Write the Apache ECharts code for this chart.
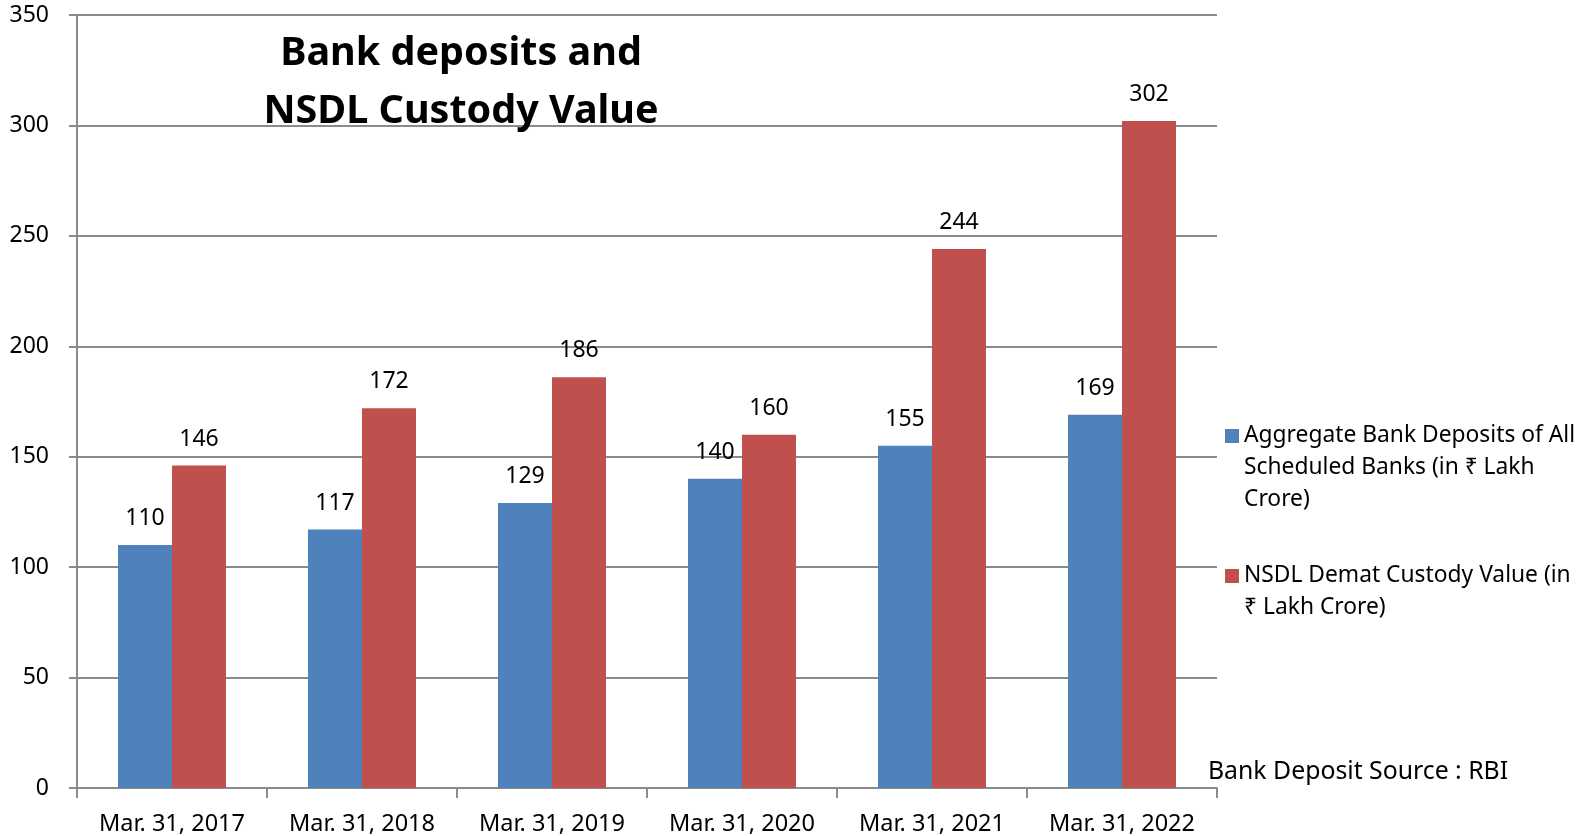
<!DOCTYPE html>
<html>
<head>
<meta charset="utf-8">
<script src="https://cdn.jsdelivr.net/npm/echarts@6/dist/echarts.min.js"></script>
<style>
  html, body { margin: 0; padding: 0; background: #fff; }
  #chart { width: 1587px; height: 836px; }
</style>
</head>
<body>
<div id="chart"></div>
<script>
var categories = ['Mar. 31, 2017', 'Mar. 31, 2018', 'Mar. 31, 2019', 'Mar. 31, 2020', 'Mar. 31, 2021', 'Mar. 31, 2022'];
var bankDeposits = [110, 117, 129, 140, 155, 169];
var nsdlCustody = [146, 172, 186, 160, 244, 302];
var seriesNames = [
  'Aggregate Bank Deposits of All Scheduled Banks (in ₹ Lakh Crore)',
  'NSDL Demat Custody Value (in ₹ Lakh Crore)'
];
// wrapped legend text, leading blank lines keep the icon on the first line
var legendText = {};
legendText[seriesNames[0]] = '\n\nAggregate Bank Deposits of All\nScheduled Banks (in ₹ Lakh\nCrore)';
legendText[seriesNames[1]] = '\nNSDL Demat Custody Value (in\n₹ Lakh Crore)';

var font = '"Noto Sans", "DejaVu Sans", sans-serif';
var gridColor = '#8a8a8a';

var chart = echarts.init(document.getElementById('chart'));

var option = {
  animation: false,
  backgroundColor: '#fff',
  textStyle: { fontFamily: font },
  title: {
    text: 'Bank deposits and\nNSDL Custody Value',
    left: 456,
    top: 20,
    textAlign: 'center',
    textStyle: {
      fontFamily: font,
      fontSize: 39.5,
      fontWeight: 'bold',
      color: '#000',
      lineHeight: 58
    }
  },
  legend: {
    orient: 'vertical',
    left: 1220,
    top: 351,
    itemWidth: 14,
    itemHeight: 14,
    itemGap: 12,
    icon: 'rect',
    data: seriesNames,
    formatter: function (name) { return legendText[name]; },
    textStyle: {
      fontFamily: font,
      fontSize: 22.8,
      lineHeight: 32,
      color: '#000'
    }
  },
  graphic: [{
    type: 'text',
    left: 1208,
    top: 759,
    style: {
      text: 'Bank Deposit Source : RBI',
      fontFamily: font,
      fontSize: 24.8,
      fill: '#000'
    }
  }],
  grid: {
    left: 77,
    right: 370,
    top: 15,
    bottom: 47.5,
    containLabel: false
  },
  xAxis: {
    type: 'category',
    data: categories,
    axisLine: { lineStyle: { color: gridColor, width: 2 } },
    axisTick: { show: true, length: 10, alignWithLabel: false, lineStyle: { color: gridColor, width: 2 } },
    axisLabel: { color: '#000', fontSize: 23.5, margin: 24, fontFamily: font }
  },
  yAxis: {
    type: 'value',
    min: 0,
    max: 350,
    interval: 50,
    axisLine: { show: true, lineStyle: { color: gridColor, width: 2 } },
    axisTick: { show: true, length: 8, lineStyle: { color: gridColor, width: 2 } },
    axisLabel: { color: '#000', fontSize: 23, margin: 28, fontFamily: font }
  },
  series: [{
    name: seriesNames[0],
    type: 'bar',
    data: bankDeposits,
    barWidth: 54,
    barGap: '0%',
    itemStyle: { color: '#4F81BD' },
    label: { show: true, position: 'top', distance: 15, color: '#000', fontSize: 23, fontFamily: font }
  }, {
    name: seriesNames[1],
    type: 'bar',
    data: nsdlCustody,
    barWidth: 54,
    barGap: '0%',
    itemStyle: { color: '#C0504D' },
    label: { show: true, position: 'top', distance: 15, color: '#000', fontSize: 23, fontFamily: font }
  }]
};
option.yAxis.splitLine = { show: true, lineStyle: { color: gridColor, width: 2 } };

chart.setOption(option);
</script>
</body>
</html>
